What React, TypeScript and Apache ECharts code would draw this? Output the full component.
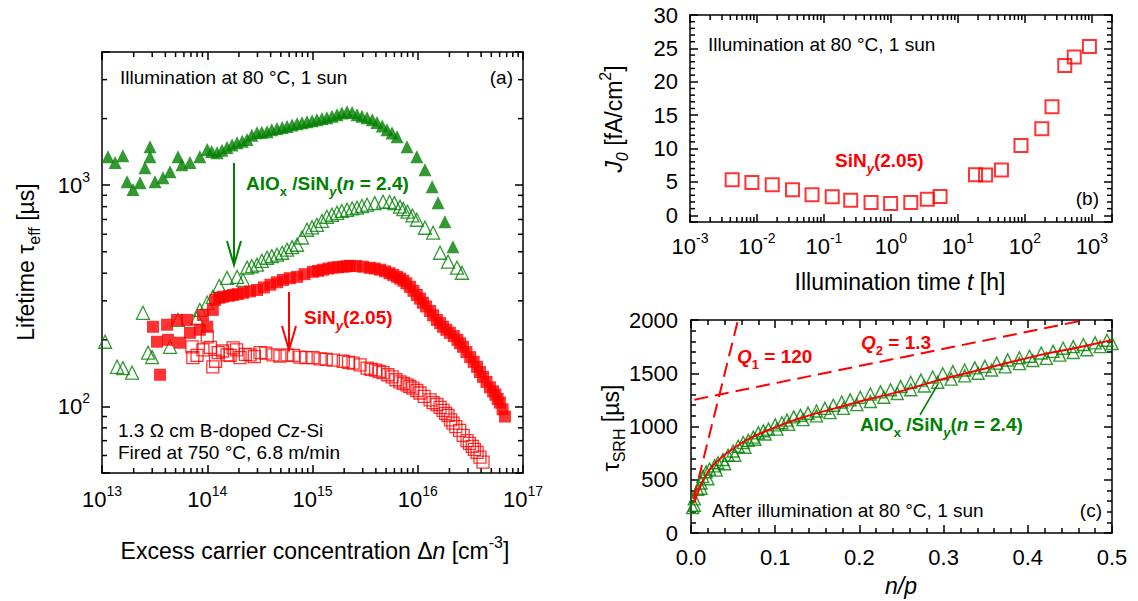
import React, { useEffect, useRef } from 'react';
import * as echarts from 'echarts';

const FONT = "'Liberation Sans', Arial, Helvetica, sans-serif";
const GREEN = '#008000';
const RED = '#ff0000';

// ---------- Panel (a): lifetime vs excess carrier concentration ----------
const aAlFilledDn = [1.14e13, 1.33e13, 1.58e13, 1.73e13, 1.97e13, 2.3e13, 2.56e13, 2.86e13, 2.86e13, 3.19e13, 3.8e13, 4.43e13, 5.27e13, 5.75e13, 6.85e13, 8.5e13, 1.0e14, 1.1e14, 1.24e14, 1.38e14, 1.54e14, 1.72e14, 1.92e14, 2.15e14, 2.39e14, 2.65e14, 2.97e14, 3.3e14, 3.7e14, 4.1e14, 4.6e14, 5.15e14, 5.73e14, 6.4e14, 7.13e14, 7.95e14, 8.87e14, 9.9e14, 1.1e15, 1.23e15, 1.37e15, 1.53e15, 1.71e15, 1.9e15, 2.13e15, 2.38e15, 2.65e15, 2.95e15, 3.3e15, 3.7e15, 4.1e15, 4.6e15, 5.1e15, 5.7e15, 6.36e15, 7.9e15, 9.8e15, 1.17e16, 1.37e16, 1.56e16, 1.81e16, 2.16e16];
const aAlFilledTau = [1345, 1265, 1360, 1037, 955, 1026, 1200, 1493, 1345, 1037, 1081, 1151, 1345, 1238, 1265, 1345, 1449, 1420, 1403, 1440, 1479, 1520, 1556, 1580, 1607, 1680, 1727, 1735, 1746, 1780, 1803, 1825, 1841, 1870, 1897, 1915, 1937, 1955, 1977, 2000, 2019, 2050, 2084, 2120, 2148, 2130, 2084, 2050, 2019, 1975, 1919, 1850, 1782, 1720, 1656, 1493, 1345, 1175, 984, 833, 684, 527];

const aAlOpenDn = [1.07e13, 1.39e13, 1.58e13, 1.93e13, 2.45e13, 2.74e13, 2.99e13, 4.43e13, 5.27e13, 8.0e13, 8.5e13, 1.0e14, 1.13e14, 1.3e14, 1.54e14, 1.92e14, 2.19e14, 2.39e14, 2.65e14, 2.97e14, 3.3e14, 3.7e14, 4.1e14, 4.6e14, 5.15e14, 5.73e14, 6.4e14, 7.13e14, 7.95e14, 8.87e14, 9.9e14, 1.1e15, 1.23e15, 1.37e15, 1.53e15, 1.71e15, 1.9e15, 2.13e15, 2.38e15, 2.65e15, 2.95e15, 3.3e15, 3.9e15, 4.68e15, 5.4e15, 6.0e15, 6.78e15, 7.3e15, 8.0e15, 8.9e15, 9.8e15, 1.17e16, 1.4e16, 1.63e16, 1.94e16, 2.36e16, 2.63e16];
const aAlOpenTau = [196, 151, 149, 142, 265, 175, 167, 186, 246, 251, 273, 294, 313, 350, 381, 385, 373, 424, 430, 437, 455, 470, 478, 485, 495, 511, 525, 538, 580, 629, 645, 662, 690, 720, 735, 750, 765, 774, 785, 791, 805, 816, 830, 842, 840, 830, 800, 780, 759, 730, 698, 642, 610, 495, 451, 424, 402];

const aSiFilledDn = [3.05e13, 3.56e13, 3.33e13, 4.15e13, 5.16e13, 6.43e13, 4.24e13, 5.5e13, 6.85e13, 8.5e13, 1.0e14, 9.1e13, 1.13e14, 1.19e14, 1.3e14, 1.41e14, 1.6e14, 1.76e14, 1.95e14, 2.19e14, 2.55e14, 2.97e14, 3.45e14, 3.98e14, 4.6e14, 5.25e14, 6.1e14, 7.13e14, 8.4e14, 1.01e15, 1.13e15, 1.26e15, 1.42e15, 1.58e15, 1.75e15, 1.96e15, 2.1e15, 2.27e15, 2.6e15, 3.02e15, 3.5e15, 3.9e15, 4.38e15, 4.9e15, 5.4e15, 5.85e15, 6.36e15, 6.8e15, 7.3e15, 7.8e15, 8.44e15, 9.1e15, 9.8e15, 1.05e16, 1.12e16, 1.2e16, 1.31e16, 1.4e16, 1.52e16, 1.63e16, 1.74e16, 1.87e16, 2.02e16, 2.2e16, 2.38e16, 2.52e16, 2.69e16, 2.9e16, 3.15e16, 3.4e16, 3.66e16, 3.9e16, 4.17e16, 4.5e16, 4.85e16, 5.2e16, 5.47e16, 5.75e16, 6.04e16, 6.4e16, 6.74e16];
const aSiFilledTau = [229, 139, 196, 234, 246, 246, 200, 194, 215, 222, 229, 259, 273, 303, 310, 313, 316, 319, 322, 326, 331, 336, 345, 355, 364, 373, 380, 385, 396, 406, 410, 415, 420, 424, 426, 428, 430, 432, 431, 428, 423, 420, 415, 408, 400, 393, 385, 378, 370, 360, 347, 333, 319, 307, 294, 283, 270, 258, 246, 238, 229, 222, 215, 208, 200, 193, 186, 176, 167, 159, 151, 143, 136, 129, 122, 117, 113, 108, 104, 97, 90];

const aSiOpenDn = [7.16e13, 7.3e13, 8.0e13, 9.1e13, 1.0e14, 1.07e14, 1.13e14, 1.2e14, 1.27e14, 1.4e14, 1.54e14, 1.65e14, 1.76e14, 1.9e14, 2.05e14, 2.3e14, 2.55e14, 2.8e14, 3.17e14, 3.6e14, 4.22e14, 4.9e14, 5.73e14, 6.6e14, 7.6e14, 8.7e14, 1.01e15, 1.18e15, 1.35e15, 1.58e15, 1.96e15, 2.2e15, 2.43e15, 2.83e15, 3.3e15, 3.6e15, 3.98e15, 4.3e15, 4.68e15, 5.2e15, 5.7e15, 6.2e15, 6.78e15, 7.3e15, 7.9e15, 8.4e15, 9.0e15, 9.8e15, 1.05e16, 1.15e16, 1.31e16, 1.4e16, 1.52e16, 1.63e16, 1.74e16, 1.84e16, 1.94e16, 2.05e16, 2.16e16, 2.3e16, 2.5e16, 2.7e16, 2.94e16, 3.1e16, 3.3e16, 3.45e16, 3.66e16, 3.9e16, 4.17e16];
const aSiOpenTau = [186, 166, 170, 180, 206, 185, 151, 160, 175, 178, 171, 170, 184, 180, 166, 172, 171, 168, 175, 174, 171, 169, 171, 170, 167, 166, 166, 164, 163, 162, 160, 158, 157, 154, 149, 147, 146, 144, 142, 139, 136, 132, 129, 127, 125, 123, 121, 118, 115, 111, 107, 104, 102, 99, 96, 93, 91, 87, 84, 81, 78, 74, 70, 68, 66, 64, 62, 59, 56];

// ---------- Panel (b): J0 vs illumination time ----------
const bTime = [4.26e-3, 8.4e-3, 0.0169, 0.0339, 0.0664, 0.133, 0.251, 0.505, 0.99, 1.98, 3.49, 5.42, 18.3, 25.9, 44.7, 87.5, 179, 254, 394, 546, 920];
const bJ0 = [5.33, 4.93, 4.58, 3.82, 3.07, 2.77, 2.26, 1.91, 1.76, 1.91, 2.42, 2.82, 6.09, 6.04, 6.79, 10.47, 12.98, 16.26, 22.45, 23.7, 25.3];

// ---------- Panel (c): tau_SRH vs n/p ----------
const cTriX1 = [0.002, 0.004, 0.008, 0.012, 0.014, 0.018, 0.022, 0.028, 0.032, 0.038, 0.044, 0.05, 0.056, 0.062, 0.068, 0.074, 0.08, 0.086, 0.092, 0.1, 0.108, 0.114, 0.122, 0.13, 0.139, 0.149, 0.159, 0.169, 0.179, 0.189, 0.201, 0.213, 0.225, 0.237, 0.249, 0.261, 0.273, 0.287, 0.299, 0.311, 0.325, 0.337, 0.349, 0.363, 0.376, 0.39, 0.402, 0.416, 0.43, 0.442, 0.454, 0.466, 0.48, 0.494];
const cTriY1 = [240, 320, 410, 470, 530, 575, 600, 630, 660, 690, 730, 770, 815, 850, 870, 900, 940, 960, 975, 1015, 1035, 1060, 1090, 1105, 1125, 1145, 1170, 1200, 1230, 1250, 1275, 1305, 1325, 1345, 1375, 1415, 1435, 1465, 1495, 1515, 1530, 1550, 1565, 1595, 1625, 1645, 1660, 1690, 1705, 1735, 1750, 1770, 1785, 1810];
const cTriX2 = [0.004, 0.012, 0.02, 0.03, 0.04, 0.052, 0.064, 0.076, 0.088, 0.102, 0.116, 0.133, 0.149, 0.165, 0.181, 0.197, 0.213, 0.229, 0.245, 0.261, 0.277, 0.293, 0.309, 0.325, 0.341, 0.357, 0.373, 0.39, 0.406, 0.422, 0.438, 0.454, 0.47, 0.486, 0.5];
const cTriY2 = [260, 420, 510, 590, 650, 730, 805, 880, 930, 975, 1020, 1065, 1100, 1130, 1170, 1205, 1235, 1275, 1310, 1345, 1380, 1415, 1445, 1475, 1500, 1530, 1560, 1590, 1620, 1640, 1670, 1695, 1720, 1750, 1780];
const cFitX = [0.004, 0.008, 0.016, 0.024, 0.036, 0.052, 0.072, 0.1, 0.133, 0.173, 0.213, 0.253, 0.293, 0.333, 0.373, 0.414, 0.454, 0.5];
const cFitY = [283, 378, 520, 614, 709, 803, 898, 992, 1087, 1175, 1260, 1339, 1433, 1512, 1591, 1670, 1733, 1811];
const cQ1X = [0.003, 0.0558];
const cQ1Y = [320, 2000];
const cQ2X = [0.004, 0.468];
const cQ2Y = [1252, 2000];

const zip = (xs: number[], ys: number[]) => xs.map((x, i) => [x, ys[i]]);

const logMinors = (from: number, to: number) => {
  const out: number[] = [];
  for (let e = from; e < to; e++) for (let m = 2; m <= 9; m++) out.push(m * Math.pow(10, e));
  return out;
};
const aXMinor = logMinors(13, 17);
const aYMinor = logMinors(1, 4).filter((v) => v > 50 && v < 4000);
const bXMinor = logMinors(-3, 3);
const bYMinor = Array.from({ length: 30 }, (_, i) => i).filter((v) => v > 0 && v % 5 !== 0);

const powLabel = (v: number) => {
  const e = Math.log10(v);
  const r = Math.round(e);
  if (Math.abs(e - r) > 1e-4) return '';
  return `{b|10}{s|${r}}`;
};

const supRich = {
  b: { fontSize: 22, fontFamily: FONT, color: '#000', lineHeight: 30 },
  s: { fontSize: 14, fontFamily: FONT, color: '#000', lineHeight: 16, verticalAlign: 'top' },
};

const lineSt = { color: '#000', width: 1.5 };
const base = (extra: any) => ({
  axisLine: { show: true, onZero: false, lineStyle: lineSt },
  axisTick: { show: true, inside: true, length: 8, lineStyle: lineSt },
  minorTick: { show: false },
  splitLine: { show: false },
  ...extra,
});

function tickSeries(xi: number, yi: number, values: number[], dir: 'x' | 'y', ref: number) {
  return {
    type: 'custom',
    xAxisIndex: xi,
    yAxisIndex: yi,
    silent: true,
    clip: false,
    z: 1,
    data: values.map((v) => (dir === 'x' ? [v, ref] : [ref, v])),
    renderItem: (params: any, api: any) => {
      const cs = params.coordSys;
      const pt = api.coord([api.value(0), api.value(1)]);
      const st = { stroke: '#000', lineWidth: 1.5 };
      const L = 5;
      if (dir === 'x') {
        const b = cs.y + cs.height;
        return {
          type: 'group',
          children: [
            { type: 'line', shape: { x1: pt[0], y1: b, x2: pt[0], y2: b - L }, style: st },
            { type: 'line', shape: { x1: pt[0], y1: cs.y, x2: pt[0], y2: cs.y + L }, style: st },
          ],
        };
      }
      const r = cs.x + cs.width;
      return {
        type: 'group',
        children: [
          { type: 'line', shape: { x1: cs.x, y1: pt[1], x2: cs.x + L, y2: pt[1] }, style: st },
          { type: 'line', shape: { x1: r, y1: pt[1], x2: r - L, y2: pt[1] }, style: st },
        ],
      };
    },
  };
}

function rich(size: number, color: string, weight: string = 'normal') {
  const f = { fontFamily: FONT, fontWeight: weight, fill: color };
  const sm = Math.round(size * 0.68);
  return {
    n: { ...f, fontSize: size, lineHeight: size + 10 },
    i: { ...f, fontSize: size, fontStyle: 'italic', lineHeight: size + 10 },
    sub: { ...f, fontSize: sm, lineHeight: sm + 2, verticalAlign: 'bottom' },
    subi: { ...f, fontSize: sm, fontStyle: 'italic', lineHeight: sm + 2, verticalAlign: 'bottom' },
    sup: { ...f, fontSize: sm, lineHeight: sm + 2, verticalAlign: 'top' },
  };
}

function txt(x: number, y: number, text: string, opt: any = {}) {
  const size = opt.size || 19;
  const color = opt.color || '#000';
  const weight = opt.weight || 'normal';
  return {
    type: 'text',
    x,
    y,
    rotation: opt.rotation || 0,
    z: 100,
    style: {
      text,
      rich: rich(size, color, weight),
      fontSize: size,
      fontFamily: FONT,
      fontWeight: weight,
      fill: color,
      align: opt.align || 'left',
      verticalAlign: 'middle',
    },
  };
}

function arrow(x: number, y1: number, y2: number, color: string) {
  return [
    { type: 'line', z: 100, shape: { x1: x, y1, x2: x, y2: y2 - 1 }, style: { stroke: color, lineWidth: 2 } },
    { type: 'polyline', z: 100, shape: { points: [[x - 7, y2 - 24], [x, y2], [x + 7, y2 - 24]] }, style: { stroke: color, lineWidth: 2, fill: 'none' } },
  ];
}

function buildOption(): any {
  const openSt = (c: string, w: number) => ({ color: 'rgba(0,0,0,0)', borderColor: c, borderWidth: w });
  const numLabel = { fontSize: 22, fontFamily: FONT, color: '#000' };
  return {
    animation: false,
    backgroundColor: '#fff',
    grid: [
      { left: 102, top: 52, width: 421, height: 421 },
      { left: 690, top: 15, width: 422, height: 207 },
      { left: 691, top: 320, width: 421, height: 213 },
    ],
    xAxis: [
      base({ gridIndex: 0, type: 'log', logBase: 10, min: 1e13, max: 1e17, position: 'bottom', axisLabel: { formatter: powLabel, rich: supRich, margin: 11 } }),
      base({ gridIndex: 0, type: 'log', logBase: 10, min: 1e13, max: 1e17, position: 'top', axisLabel: { show: false } }),
      base({ gridIndex: 1, type: 'log', logBase: 10, min: 1e-3, max: 2000, position: 'bottom', axisLabel: { formatter: powLabel, rich: supRich, margin: 9 } }),
      base({ gridIndex: 1, type: 'log', logBase: 10, min: 1e-3, max: 2000, position: 'top', axisLabel: { show: false } }),
      base({ gridIndex: 2, type: 'value', min: 0, max: 0.5, interval: 0.1, position: 'bottom', minorTick: { show: true, splitNumber: 5, length: 5, lineStyle: lineSt }, axisLabel: { ...numLabel, formatter: (v: number) => v.toFixed(1), margin: 13 } }),
      base({ gridIndex: 2, type: 'value', min: 0, max: 0.5, interval: 0.1, position: 'top', minorTick: { show: true, splitNumber: 5, length: 5, lineStyle: lineSt }, axisLabel: { show: false } }),
    ],
    yAxis: [
      base({ gridIndex: 0, type: 'log', logBase: 10, min: 50, max: 4000, position: 'left', axisLabel: { formatter: powLabel, rich: supRich, margin: 12 } }),
      base({ gridIndex: 0, type: 'log', logBase: 10, min: 50, max: 4000, position: 'right', axisLabel: { show: false } }),
      base({ gridIndex: 1, type: 'value', min: -1, max: 30, position: 'left', axisLabel: { ...numLabel, formatter: (v: number) => (v >= 0 && Math.abs(v % 5) < 1e-9 ? String(v) : ''), margin: 12 } }),
      base({ gridIndex: 1, type: 'value', min: -1, max: 30, position: 'right', axisLabel: { show: false } }),
      base({ gridIndex: 2, type: 'value', min: 0, max: 2000, interval: 500, position: 'left', minorTick: { show: true, splitNumber: 5, length: 5, lineStyle: lineSt }, axisLabel: { ...numLabel, formatter: (v: number) => String(v), margin: 13 } }),
      base({ gridIndex: 2, type: 'value', min: 0, max: 2000, interval: 500, position: 'right', minorTick: { show: true, splitNumber: 5, length: 5, lineStyle: lineSt }, axisLabel: { show: false } }),
    ],
    series: [
      tickSeries(0, 0, aXMinor, 'x', 100),
      tickSeries(0, 0, aYMinor, 'y', 1e14),
      tickSeries(2, 2, bXMinor, 'x', 5),
      tickSeries(2, 2, bYMinor, 'y', 1),
      { type: 'scatter', xAxisIndex: 0, yAxisIndex: 0, symbol: 'triangle', symbolSize: 13, data: zip(aAlFilledDn, aAlFilledTau), itemStyle: { color: GREEN } },
      { type: 'scatter', xAxisIndex: 0, yAxisIndex: 0, symbol: 'triangle', symbolSize: 13, data: zip(aAlOpenDn, aAlOpenTau), itemStyle: openSt(GREEN, 1.3) },
      { type: 'scatter', xAxisIndex: 0, yAxisIndex: 0, symbol: 'rect', symbolSize: 12, data: zip(aSiFilledDn, aSiFilledTau), itemStyle: { color: RED } },
      { type: 'scatter', xAxisIndex: 0, yAxisIndex: 0, symbol: 'rect', symbolSize: 12, data: zip(aSiOpenDn, aSiOpenTau), itemStyle: openSt(RED, 1.3) },
      { type: 'scatter', xAxisIndex: 2, yAxisIndex: 2, symbol: 'rect', symbolSize: 13, data: zip(bTime, bJ0), itemStyle: openSt(RED, 2) },
      { type: 'line', xAxisIndex: 4, yAxisIndex: 4, showSymbol: false, symbol: 'none', data: zip(cQ1X, cQ1Y), lineStyle: { color: RED, width: 2, type: [14, 7] } },
      { type: 'line', xAxisIndex: 4, yAxisIndex: 4, showSymbol: false, symbol: 'none', data: zip(cQ2X, cQ2Y), lineStyle: { color: RED, width: 2, type: [14, 7] } },
      { type: 'scatter', xAxisIndex: 4, yAxisIndex: 4, symbol: 'triangle', symbolSize: 12, data: zip(cTriX1, cTriY1), itemStyle: openSt(GREEN, 1.4) },
      { type: 'scatter', xAxisIndex: 4, yAxisIndex: 4, symbol: 'triangle', symbolSize: 12, data: zip(cTriX2, cTriY2), itemStyle: openSt(GREEN, 1.4) },
      { type: 'line', xAxisIndex: 4, yAxisIndex: 4, showSymbol: false, symbol: 'none', smooth: 0.4, data: zip(cFitX, cFitY), lineStyle: { color: RED, width: 2 }, z: 5 },
    ],
    graphic: [
      // panel (a)
      txt(120, 77, 'Illumination at 80 °C, 1 sun'),
      txt(513, 77, '(a)', { align: 'right' }),
      txt(246, 183, '{n|AlO}{sub|x}{n| /SiN}{subi|y}{n|(}{i|n}{n| = 2.4)}', { color: GREEN, weight: 'bold' }),
      txt(304, 317, '{n|SiN}{subi|y}{n|(2.05)}', { color: RED, weight: 'bold' }),
      txt(118, 430, '1.3 Ω cm B-doped Cz-Si'),
      txt(118, 452, 'Fired at 750 °C, 6.8 m/min'),
      ...arrow(234, 163, 265, GREEN),
      ...arrow(289, 292, 350, RED),
      // panel (b)
      txt(708, 44, 'Illumination at 80 °C, 1 sun'),
      txt(835, 160, '{n|SiN}{subi|y}{n|(2.05)}', { color: RED, weight: 'bold' }),
      txt(1099, 198, '(b)', { align: 'right' }),
      // panel (c)
      txt(737, 356, '{i|Q}{sub|1}{n| = 120}', { color: RED, weight: 'bold' }),
      txt(861, 342, '{i|Q}{sub|2}{n| = 1.3}', { color: RED, weight: 'bold' }),
      txt(860, 424, '{n|AlO}{sub|x}{n| /SiN}{subi|y}{n|(}{i|n}{n| = 2.4)}', { color: GREEN, weight: 'bold' }),
      { type: 'line', z: 100, shape: { x1: 920, y1: 415, x2: 938, y2: 384 }, style: { stroke: GREEN, lineWidth: 1.5 } },
      txt(712, 510, 'After illumination at 80 °C, 1 sun'),
      txt(1102, 510, '(c)', { align: 'right' }),
      // axis titles
      txt(26, 262, '{n|Lifetime τ}{sub|eff}{n| [µs]}', { size: 23, align: 'center', rotation: Math.PI / 2 }),
      txt(315, 551, '{n|Excess carrier concentration Δ}{i|n}{n| [cm}{sup|-3}{n|]}', { size: 23, align: 'center' }),
      txt(614, 119, '{i|J}{subi|0}{n| [fA/cm}{sup|2}{n|]}', { size: 23, align: 'center', rotation: Math.PI / 2 }),
      txt(900, 282, '{n|Illumination time }{i|t}{n| [h]}', { size: 23, align: 'center' }),
      txt(611, 428, '{n|τ}{sub|SRH}{n| [µs]}', { size: 23, align: 'center', rotation: Math.PI / 2 }),
      txt(901, 586, '{i|n/p}', { size: 23, align: 'center' }),
    ],
  };
}

export default function App() {
  const ref = useRef<HTMLDivElement>(null);
  useEffect(() => {
    if (!ref.current) return;
    const chart = echarts.init(ref.current, undefined, { renderer: 'svg' });
    chart.setOption(buildOption());
    return () => {
      chart.dispose();
    };
  }, []);
  return <div ref={ref} style={{ position: 'absolute', left: 0, top: 0, width: 1138, height: 601, background: '#fff' }} />;
}
